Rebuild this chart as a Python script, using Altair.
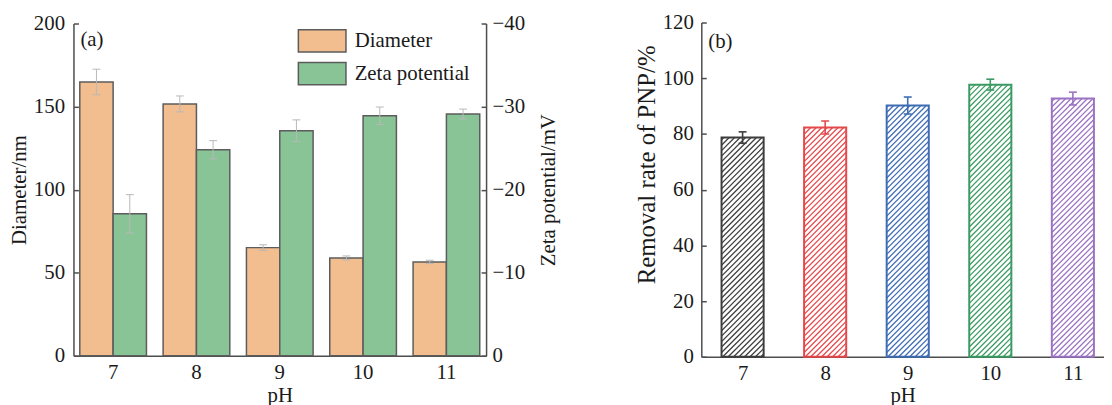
import altair as alt
import pandas as pd

# ---------------- data ----------------
ph_labels = ["7", "8", "9", "10", "11"]
ph_values = [7, 8, 9, 10, 11]
diameter = [164.8, 151.6, 65.1, 58.9, 56.5]
diameter_err = [7.7, 4.8, 1.7, 1.2, 1.0]
zeta = [-17.1, -24.8, -27.1, -28.9, -29.1]
zeta_err = [2.3, 1.1, 1.3, 1.05, 0.6]
removal = [78.7, 82.3, 90.2, 97.7, 92.7]
removal_err = [2.05, 2.35, 3.05, 1.95, 2.3]
series_names = ["Diameter", "Zeta potential"]
series_colors = ["#F2BD8F", "#89C497"]
removal_colors = ["#3d3d3d", "#E5484B", "#3E6CB3", "#3B9A62", "#9B73C3"]
diam_ticks = [0, 50, 100, 150, 200]
zeta_ticks = [0, -10, -20, -30, -40]
removal_ticks = [0, 20, 40, 60, 80, 100, 120]

# ---------------- style ----------------
FONT = "Liberation Serif"
AXIS_COLOR = "#4d4d4d"
TEXT_COLOR = "#1a1a1a"
EDGE = "#5c5c5c"
ERR_GRAY = "#b8b8b8"
INWARD = alt.ExprRef(expr="-5")

LW, LH = 416, 335
RW, RH = 406, 337
R_XMIN, R_XMAX = 6.5, 11.377
HALF = 0.255
HATCH_STEP = 5.5  # px, horizontal period of hatch lines

# ---------------- left panel ----------------
dfD = pd.DataFrame({"pH": ph_labels, "series": series_names[0], "v": diameter, "e": diameter_err})
dfZ = pd.DataFrame({"pH": ph_labels, "series": series_names[1], "v": zeta, "e": zeta_err})

x_left = alt.X("pH:N", sort=ph_labels,
               scale=alt.Scale(paddingInner=0.2, paddingOuter=0.076),
               axis=alt.Axis(title="pH", labelAngle=0, ticks=False, labelPadding=6, titlePadding=2))
x_off = alt.XOffset("series:N", scale=alt.Scale(domain=series_names))
fill_enc = alt.Fill(
    "series:N",
    scale=alt.Scale(domain=series_names, range=series_colors),
    legend=alt.Legend(
        orient="none", legendX=238.75, legendY=6.5, title=None,
        symbolType="M-2.1333,-1H2.1333V1H-2.1333Z", symbolSize=506,
        symbolStrokeColor=EDGE, symbolStrokeWidth=1.5, symbolOpacity=1,
        labelFont=FONT, labelFontSize=21, labelColor=TEXT_COLOR, labelOffset=20.75,
        labelLimit=400, rowPadding=3, padding=0,
    ),
)


def group(df, scale, axis):
    base = alt.Chart(df).transform_calculate(lo="datum.v - datum.e", hi="datum.v + datum.e")
    bars = base.mark_bar(stroke=EDGE, strokeWidth=1.5).encode(
        x=x_left, xOffset=x_off, y=alt.Y("v:Q", scale=scale, axis=axis), fill=fill_enc)
    err = base.mark_rule(color=ERR_GRAY, strokeWidth=1).encode(
        x=x_left, xOffset=x_off, y=alt.Y("lo:Q", scale=scale, axis=axis), y2="hi:Q")
    cap_lo = base.mark_tick(orient="horizontal", size=8, thickness=1, color=ERR_GRAY, opacity=1).encode(
        x=x_left, xOffset=x_off, y=alt.Y("lo:Q", scale=scale, axis=axis))
    cap_hi = base.mark_tick(orient="horizontal", size=8, thickness=1, color=ERR_GRAY, opacity=1).encode(
        x=x_left, xOffset=x_off, y=alt.Y("hi:Q", scale=scale, axis=axis))
    return alt.layer(bars, err, cap_lo, cap_hi)


axis_d = alt.Axis(title="Diameter/nm", orient="left", values=diam_ticks, tickSize=INWARD,
                  labelPadding=14, titlePadding=4)
axis_z = alt.Axis(title="Zeta potential/mV", orient="right", values=zeta_ticks, tickSize=INWARD,
                  labelPadding=11, titlePadding=13, titleAngle=270, titleBaseline="top")
layer_d = group(dfD, alt.Scale(domain=[0, 200], nice=False), axis_d)
layer_z = group(dfZ, alt.Scale(domain=[0, -40], nice=False), axis_z)

label_a = alt.Chart(pd.DataFrame({"t": ["(a)"]})).mark_text(
    align="left", baseline="middle", font=FONT, fontSize=21, color=TEXT_COLOR
).encode(text="t:N", x=alt.value(7), y=alt.value(17))

left = alt.layer(layer_d, layer_z, label_a).resolve_scale(y="independent").properties(width=LW, height=LH)

# ---------------- right panel ----------------
dfR = pd.DataFrame({"pH": ph_values, "v": removal, "e": removal_err, "c": removal_colors})

kx = RW / (R_XMAX - R_XMIN)
ky = RH / 120.0
hx, hy, hx2, hy2, hc = [], [], [], [], []
for p, v, col in zip(ph_values, removal, removal_colors):
    W = 2 * HALF * kx
    H = v * ky
    c = -W + HATCH_STEP / 2
    while c < H:
        X0 = max(0.0, -c)
        X1 = min(W, H - c)
        if X1 > X0:
            hx.append(p - HALF + X0 / kx)
            hy.append((X0 + c) / ky)
            hx2.append(p - HALF + X1 / kx)
            hy2.append((X1 + c) / ky)
            hc.append(col)
        c += HATCH_STEP
dfH = pd.DataFrame({"x": hx, "y": hy, "x2": hx2, "y2": hy2, "c": hc})

x_r_scale = alt.Scale(domain=[R_XMIN, R_XMAX], nice=False, zero=False)
y_r_scale = alt.Scale(domain=[0, 120], nice=False)
axis_xr = alt.Axis(title="pH", values=ph_values, format="d", ticks=False, labelPadding=6, titlePadding=1)
axis_yr = alt.Axis(title="Removal rate of PNP/%", values=removal_ticks, tickSize=INWARD,
                   labelPadding=13, titlePadding=3, titleFontSize=25, titleY=143)

hatch = alt.Chart(dfH).mark_rule(strokeWidth=1.25).encode(
    x=alt.X("x:Q", scale=x_r_scale, axis=axis_xr), x2="x2:Q",
    y=alt.Y("y:Q", scale=y_r_scale, axis=axis_yr), y2="y2:Q",
    stroke=alt.Stroke("c:N", scale=None))

baseR = alt.Chart(dfR).transform_calculate(
    xl=f"datum.pH - {HALF}", xr=f"datum.pH + {HALF}",
    lo="datum.v - datum.e", hi="datum.v + datum.e")
bars_r = baseR.mark_bar(fill="transparent", strokeWidth=2).encode(
    x=alt.X("xl:Q", scale=x_r_scale, axis=axis_xr), x2="xr:Q",
    y=alt.Y("v:Q", scale=y_r_scale, axis=axis_yr), y2=alt.datum(0),
    stroke=alt.Stroke("c:N", scale=None))
err_r = baseR.mark_rule(strokeWidth=1.6).encode(
    x=alt.X("pH:Q", scale=x_r_scale, axis=axis_xr),
    y=alt.Y("lo:Q", scale=y_r_scale, axis=axis_yr), y2="hi:Q",
    stroke=alt.Stroke("c:N", scale=None))
cap_r_lo = baseR.mark_tick(orient="horizontal", size=8, thickness=1.6, opacity=1).encode(
    x=alt.X("pH:Q", scale=x_r_scale, axis=axis_xr),
    y=alt.Y("lo:Q", scale=y_r_scale, axis=axis_yr),
    color=alt.Color("c:N", scale=None))
cap_r_hi = baseR.mark_tick(orient="horizontal", size=8, thickness=1.6, opacity=1).encode(
    x=alt.X("pH:Q", scale=x_r_scale, axis=axis_xr),
    y=alt.Y("hi:Q", scale=y_r_scale, axis=axis_yr),
    color=alt.Color("c:N", scale=None))

label_b = alt.Chart(pd.DataFrame({"t": ["(b)"]})).mark_text(
    align="left", baseline="middle", font=FONT, fontSize=21, color=TEXT_COLOR
).encode(text="t:N", x=alt.value(7), y=alt.value(20))

right = alt.layer(hatch, bars_r, err_r, cap_r_lo, cap_r_hi, label_b).properties(width=RW, height=RH)

chart = alt.hconcat(left, right, spacing=217, bounds="flush", center=True).properties(
    padding={"left": 0, "top": 2, "right": 0, "bottom": 0}
).configure_view(stroke=None).configure_axis(
    labelFont=FONT, labelFontSize=21, labelColor=TEXT_COLOR,
    titleFont=FONT, titleFontSize=21, titleFontWeight="normal", titleColor=TEXT_COLOR,
    domainColor=AXIS_COLOR, domainWidth=1.5, tickColor=AXIS_COLOR, tickWidth=1.5, grid=False,
)

chart.save("out.html", embed_options={"renderer": "svg", "actions": False})
